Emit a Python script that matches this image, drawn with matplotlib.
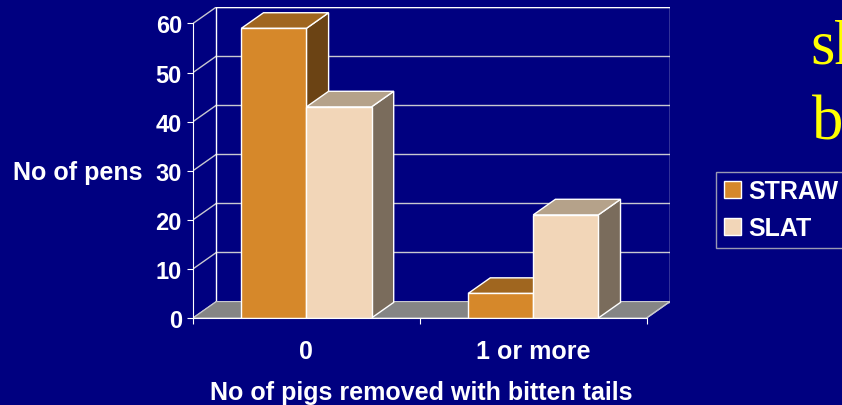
import numpy as np
from matplotlib import pyplot as plt
from matplotlib.patches import Polygon, Patch

categories = ["0", "1 or more"]
straw = [59, 5]
slat = [43, 21]
series_names = ["STRAW", "SLAT"]
yticks = [0, 10, 20, 30, 40, 50, 60]

navy = "#000080"
front_cols = ["#d6882a", "#f2d6b8"]
top_cols = ["#a0661f", "#b5a28a"]
side_cols = ["#6b4314", "#7a6c5c"]

plt.rcParams["font.family"] = ["Liberation Sans", "DejaVu Sans"]
plt.rcParams["font.weight"] = "bold"

fig = plt.figure(figsize=(8.42, 4.06), dpi=100)
fig.patch.set_facecolor(navy)
ax = fig.add_axes([193 / 842, 87 / 406, 477 / 842, 311 / 406])
ax.set_facecolor(navy)

# depth offset of the 3d box (category units, value units)
dx = 0.103
dy = 3.35
n = len(categories)
ymax = yticks[-1]
ax.set_xlim(0, n + dx)
ax.set_ylim(0, ymax + dy)

grid = "#c8c8d0"
# floor
floor = Polygon([(0, 0), (n, 0), (n + dx, dy), (dx, dy)], closed=True,
                facecolor="#858585", edgecolor=grid, lw=0.8, zorder=1)
ax.add_patch(floor)
# back wall gridlines and left wall diagonals
for v in yticks:
    ax.plot([dx, n + dx], [v + dy, v + dy], color=grid, lw=1, zorder=0.5)
    ax.plot([0, dx], [v, v + dy], color=grid, lw=1, zorder=0.5)
ax.plot([dx, n + dx], [ymax + dy, ymax + dy], color="white", lw=1, zorder=0.6)
ax.plot([dx, dx], [dy, ymax + dy], color="white", lw=1, zorder=0.6)
ax.plot([n + dx, n + dx], [dy, ymax + dy], color="white", lw=1, zorder=0.6)
ax.plot([n, n + dx], [0, dy], color=grid, lw=1, zorder=1.2)

# 3d bars
bw = 0.287
bd = 0.95
values = [straw, slat]
for i in range(n):
    for j, vals in enumerate(values):
        x0 = i + 0.5 - bw + j * bw
        x1 = x0 + bw
        v = vals[i]
        ddx, ddy = dx * bd, dy * bd
        front = Polygon([(x0, 0), (x1, 0), (x1, v), (x0, v)], closed=True,
                        facecolor=front_cols[j], edgecolor="white", lw=1, zorder=3)
        top = Polygon([(x0, v), (x1, v), (x1 + ddx, v + ddy), (x0 + ddx, v + ddy)],
                      closed=True, facecolor=top_cols[j], edgecolor="white", lw=1, zorder=2)
        side = Polygon([(x1, 0), (x1 + ddx, ddy), (x1 + ddx, v + ddy), (x1, v)],
                       closed=True, facecolor=side_cols[j], edgecolor="white", lw=1, zorder=2)
        ax.add_patch(side)
        ax.add_patch(top)
        ax.add_patch(front)

for s in ["top", "right"]:
    ax.spines[s].set_visible(False)
ax.spines["left"].set_bounds(0, ymax)
ax.spines["bottom"].set_bounds(0, n)
ax.spines["left"].set_color("white")
ax.spines["bottom"].set_color("white")
ax.spines["left"].set_zorder(4)
ax.spines["bottom"].set_zorder(4)

ax.set_yticks(yticks)
ax.set_yticklabels([str(t) for t in yticks])
ax.tick_params(axis="y", colors="white", length=4, pad=4, labelsize=17)
ax.set_xticks(np.arange(n + 1))
ax.set_xticklabels([])
ax.set_xticks(np.arange(n) + 0.5, minor=True)
ax.set_xticklabels(categories, minor=True)
ax.tick_params(axis="x", which="major", colors="white", length=4)
ax.tick_params(axis="x", which="minor", colors="white", length=0, pad=15, labelsize=18)

fig.text(421 / 842, 1 - 393 / 406, "No of pigs removed with bitten tails",
         color="white", fontsize=18, ha="center", va="center")
fig.text(13 / 842, 1 - 173 / 406, "No of pens", color="white", fontsize=18,
         ha="left", va="center")

handles = [Patch(facecolor=front_cols[k], edgecolor="white", lw=1) for k in range(2)]
leg = fig.legend(handles, series_names, loc="upper left",
                 bbox_to_anchor=(716 / 842, 1 - 173 / 406), frameon=True,
                 fancybox=False, facecolor=navy, edgecolor="#c0c0c0",
                 fontsize=18, handlelength=0.68, handleheight=0.68,
                 handletextpad=0.3, labelspacing=0.5, borderpad=0.3,
                 borderaxespad=0)
for t in leg.get_texts():
    t.set_color("white")
leg.get_frame().set_linewidth(1)

# title text running off the right edge
fig.text(810 / 842, 1 - 64 / 406, "sh", color="#ffff00", fontsize=45,
         family="Liberation Serif", fontweight="normal", va="baseline")
fig.text(812 / 842, 1 - 140 / 406, "bi", color="#ffff00", fontsize=45,
         family="Liberation Serif", fontweight="normal", va="baseline")

fig.savefig("out.png", dpi=100, facecolor=navy)
